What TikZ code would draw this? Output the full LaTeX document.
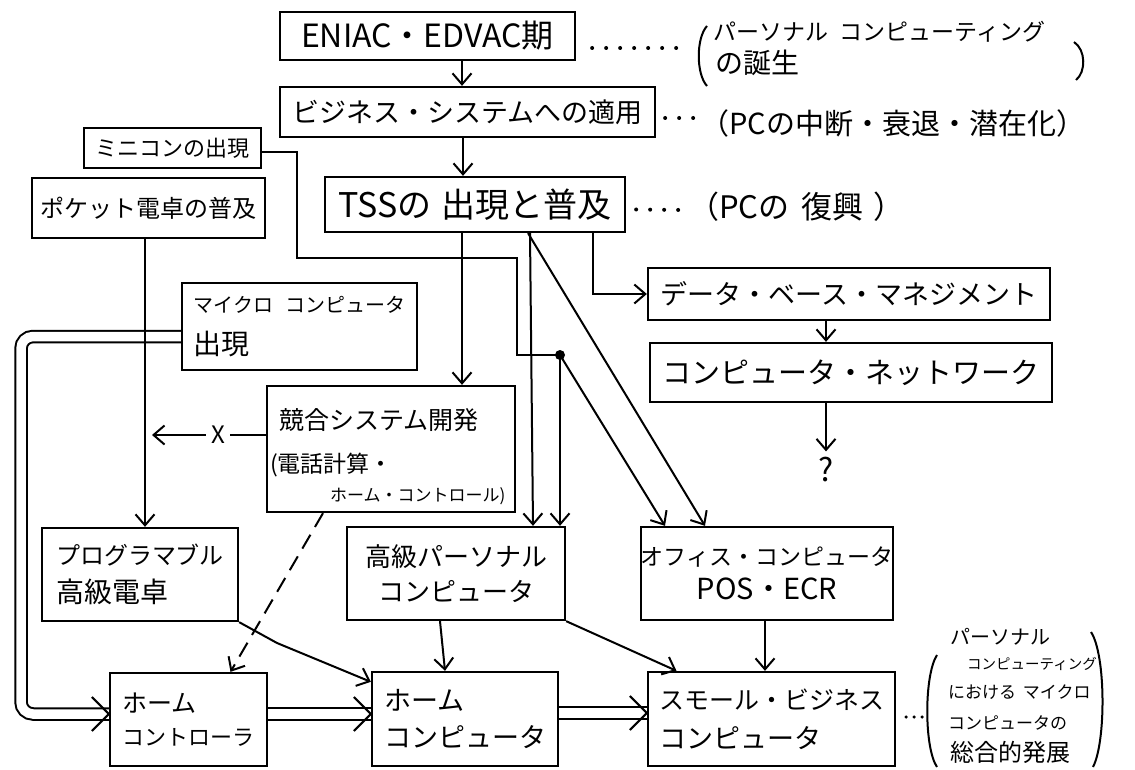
\documentclass[tikz,border=0pt]{standalone}
\usepackage{fontspec}
\newfontfamily\jp{Noto Sans CJK JP}
\usetikzlibrary{arrows.meta,calc}
\newcommand\fs[1]{\fontsize{#1pt}{#1pt}\selectfont}
\begin{document}
\begin{tikzpicture}[x=1pt,y=-1pt,
  bx/.style={draw, line width=2.3pt, inner sep=0pt, font=\jp},
  txt/.style={inner sep=0pt, font=\jp},
  ln/.style={line width=2pt},
  arr/.style={line width=2pt, -{Straight Barb[length=11pt,width=19pt]}},
  dbl/.style={line width=2pt, double, double distance=9.5pt},
  dots/.style={line width=4pt, line cap=round, dash pattern=on 0pt off 14pt},
]
\useasboundingbox (0,0) rectangle (1135,770);

% boxes
\node[bx, minimum width=295, minimum height=48] (b1) at (427.5,36) {\fs{32}ENIAC・EDVAC期};
\node[bx, minimum width=375, minimum height=50] (b2) at (467.5,112) {\fs{27}ビジネス・システムへの適用};
\node[bx, minimum width=177, minimum height=40] (b3) at (172.5,148) {\fs{22}ミニコンの出現};
\node[bx, minimum width=233, minimum height=60] (b4) at (148.5,208) {\fs{24}ポケット電卓の普及};
\node[bx, minimum width=300, minimum height=55] (b5) at (475,204.5) {\fs{34}TSSの\hspace{0.3em}出現と普及};
\node[bx, minimum width=402, minimum height=52] (b6) at (849,294) {\fs{27}データ・ベース・マネジメント};
\node[bx, minimum width=402, minimum height=59] (b7) at (851,372.5) {\fs{29}コンピュータ・ネットワーク};
\node[bx, minimum width=235, minimum height=87, align=left] (b9) at (299.5,326.5) {\fs{20}マイクロ\hspace{0.6em}コンピュータ\\[16pt]\fs{28}出現};
\node[bx, minimum width=248, minimum height=126] (b10) at (391,449) {};
\node[txt, anchor=west] (t10a) at (279,420) {\fs{25}競合システム開発};
\node[txt, anchor=west] (t10b) at (270,465) {\fs{23}(電話計算・};
\node[txt, anchor=west] (t10c) at (330,496) {\fs{17}ホーム・コントロール)};
\node[bx, minimum width=196, minimum height=93, align=left] (b11) at (140,574.5) {\fs{24}プログラマブル\\[12pt]\fs{28}高級電卓};
\node[bx, minimum width=218, minimum height=93, align=center] (b12) at (456,573.5) {\fs{26}高級パーソナル\\[10pt]\fs{26}コンピュータ};
\node[bx, minimum width=252, minimum height=93, align=center] (b13) at (767,573.5) {\fs{23}オフィス・コンピュータ\\[10pt]\fs{29}POS・ECR};
\node[bx, minimum width=157, minimum height=93, align=left] (b14) at (188.5,719.5) {\fs{25}ホーム\\[14pt]\fs{22}コントローラ};
\node[bx, minimum width=186, minimum height=94, align=left] (b15) at (465,719) {\fs{27}ホーム\\[13pt]\fs{27}コンピュータ};
\node[bx, minimum width=247, minimum height=94, align=left] (b16) at (771.5,719) {\fs{25}スモール・ビジネス\\[15pt]\fs{27}コンピュータ};
\node[txt] (q) at (826,470) {\fs{32}?};
\node[txt, inner sep=5pt] (xm) at (218,435) {\fs{24}X};

% annotations
\node[txt, anchor=west] (a1a) at (713,32) {\fs{23}パーソナル\hspace{0.5em}コンピューティング};
\node[txt, anchor=west] (a1b) at (715,63) {\fs{28}の誕生};
\draw[ln] (707,26) .. controls (696,38) and (696,74) .. (707,86);
\draw[ln] (1074,42) .. controls (1086,50) and (1086,72) .. (1076,80);
\node[txt, anchor=west] (a2) at (700,123) {\fs{29}（PCの中断・衰退・潜在化）};
\node[txt, anchor=west] (a3) at (688,207) {\fs{31}（PCの\hspace{0.4em}復興\hspace{0.3em}）};
\node[txt, anchor=west] (a4a) at (950,637) {\fs{20}パーソナル};
\node[txt, anchor=west] (a4b) at (967,664) {\fs{14.5}コンピューティング};
\node[txt, anchor=west] (a4c) at (948,692) {\fs{17}における\hspace{0.4em}マイクロ};
\node[txt, anchor=west] (a4d) at (948,723) {\fs{17}コンピュータの};
\node[txt, anchor=west] (a4e) at (950,752) {\fs{24}総合的発展};
\draw[ln] (937,655) .. controls (924,675) and (924,748) .. (937,767);
\draw[ln] (1091,632) .. controls (1106,655) and (1106,742) .. (1093,767);

% dotted leaders
\draw[dots] ($(b1.east)+(16,12)$) -- ($(a1b.west)+(-27,-15)$);
\draw[dots] ($(b2.east)+(9,6)$) -- ($(a2.west)+(-4,-5)$);
\draw[dots] ($(b5.east)+(10,5)$) -- ($(a3.west)+(-6,3)$);
\draw[line width=3.5pt, line cap=round, dash pattern=on 0pt off 8pt] ($(b16.east)+(10,-2)$) -- ($(a4c.west)+(-22,25)$);

% double lines
\draw[dbl, rounded corners=12pt] ($(b9.west)+(0,10)$) -- (21,336.5) -- (21,714) -- ($(b14.west)+(0,-5.5)$);
\draw[dbl] ($(b14.east)+(0,-5.5)$) -- ($(b15.west)+(0,-5)$);
\draw[dbl] ($(b15.east)+(0,-6)$) -- ($(b16.west)+(0,-6)$);
\coordinate (t1) at ($(b14.west)+(0,-5.5)$);
\coordinate (t2) at ($(b15.west)+(0,-5)$);
\coordinate (t3) at ($(b16.west)+(0,-6)$);
\foreach \t in {t1,t2,t3}
  \draw[ln, line join=miter] ($(\t)+(-17,-17)$) -- (\t) -- ($(\t)+(-17,17)$);

% connectors
\draw[arr] ($(b1.south)+(34.5,0)$) -- ($(b2.north)+(-5.5,0)$);
\draw[arr] ($(b2.south)+(-4.5,0)$) -- ($(b5.north)+(-12,0)$);
\coordinate (jn) at (560,355);
\draw[ln] ($(b3.east)+(0,4)$) -- (297,152) -- (297,258) -- (517,258) -- (517,355) -- (jn);
\fill (jn) circle (5);
\draw[arr] (jn) -- (jn |- b12.north);
\draw[arr] (jn) -- ($(b13.north)+(-102,0)$);
\draw[arr] ($(b5.south)+(-13,0)$) -- ($(b10.north)+(71,0)$);
\draw[arr] ($(b5.south)+(55,0)$) -- ($(b12.north)+(77,0)$);
\draw[arr] ($(b5.south)+(53,0)$) -- ($(b13.north)+(-62,0)$);
\draw[arr] ($(b5.south)+(118,0)$) |- (b6.west);
\draw[arr] ($(b6.south)+(-23,0)$) -- ($(b7.north)+(-25,0)$);
\draw[arr] ($(b7.south)+(-25,0)$) -- ($(q.north)+(0,-6)$);
\draw[arr] ($(b4.south)+(-3.5,0)$) -- ($(b11.north)+(5,0)$);
\coordinate (xl) at (152,435);
\draw[ln] ($(b10.west)+(0,-14)$) -- (xm.east);
\draw[arr] (xm.west) -- (xl);
\draw[arr, dash pattern=on 16pt off 9pt] ($(b10.south)+(-68,0)$) -- ($(b14.north)+(42,0)$);
\draw[arr] (b11.south east) -- (277,643) -- ($(b15.north west)+(0,11)$);
\draw[arr] ($(b12.south)+(-16,0)$) -- ($(b15.north)+(-20,0)$);
\draw[arr] (b12.south east) -- ($(b16.north)+(-95,0)$);
\draw[arr] ($(b13.south)+(-2,0)$) -- ($(b16.north)+(-6.5,0)$);
\end{tikzpicture}
\end{document}
